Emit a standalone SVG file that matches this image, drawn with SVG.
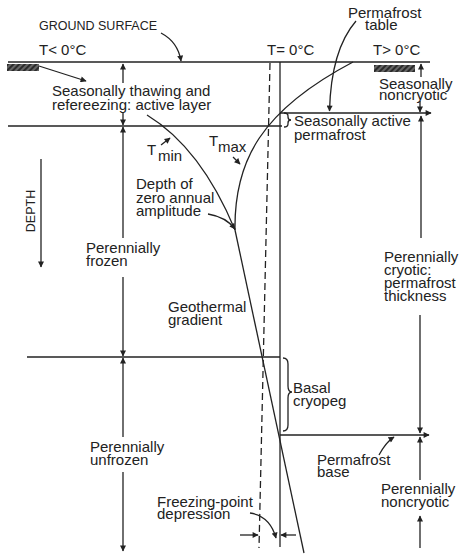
<svg xmlns="http://www.w3.org/2000/svg" width="462" height="556" viewBox="0 0 462 556">
<style>
text{font-family:"Liberation Sans",Arial,sans-serif;font-size:15px;fill:#222}
.sm{font-size:12.5px}
.ln{stroke:#222;stroke-width:1.3;fill:none}
.ar{stroke:#222;stroke-width:1.3;fill:none;marker-end:url(#ah)}
</style>
<defs>
<marker id="ah" viewBox="0 0 10 10" refX="9" refY="5" markerWidth="7" markerHeight="6" markerUnits="userSpaceOnUse" orient="auto"><path d="M0,0 L10,5 L0,10 z" fill="#222"/></marker>
<pattern id="hatch" width="4" height="4" patternUnits="userSpaceOnUse" patternTransform="rotate(45)"><rect width="4" height="4" fill="#2a2a2a"/><line x1="1" y1="0" x2="1" y2="4" stroke="#a0a0a0" stroke-width="1"/></pattern>
</defs>
<rect width="462" height="556" fill="#fff"/>

<g id="surface">
<rect x="7" y="64" width="32" height="7" fill="url(#hatch)"/>
<rect x="374" y="65" width="41" height="7" fill="url(#hatch)"/>
<text class="sm" x="39" y="30">GROUND SURFACE</text>
<text x="39" y="55">T&lt; 0°C</text>
<text x="267" y="55">T= 0°C</text>
<text x="373" y="55">T&gt; 0°C</text>
</g>

<g id="lines">
<line class="ln" x1="8" y1="62" x2="430" y2="62"/>
<line class="ln" x1="8" y1="126" x2="282" y2="126"/>
<line class="ln" x1="27" y1="357" x2="280" y2="357"/>
<line class="ln" x1="280" y1="62" x2="280" y2="547"/>
<line class="ln" x1="270" y1="63" x2="259" y2="548" stroke-dasharray="7,4"/>
</g>

<g id="curves">
<path class="ln" d="M147,115 Q201,148 235,230"/>
<path class="ln" d="M235,230 C234,160 262,110 353,62"/>
<line class="ln" x1="235" y1="230" x2="304" y2="553"/>
</g>

<g id="labels">
<text x="348" y="18">Permafrost</text>
<text x="365" y="30">table</text>
<text x="52" y="96">Seasonally thawing and</text>
<text x="52" y="110">refereezing: active layer</text>
<text x="379" y="89">Seasonally</text>
<text x="379" y="100">noncryotic</text>
<text x="294" y="126">Seasonally active</text>
<text x="294" y="140">permafrost</text>
<text x="147" y="155">T</text><text x="158" y="161">min</text>
<text x="209" y="146">T</text><text x="218" y="152">max</text>
<text x="136" y="189">Depth of</text>
<text x="136" y="203">zero annual</text>
<text x="136" y="216">amplitude</text>
<text class="sm" transform="translate(35,211) rotate(-90)" text-anchor="middle">DEPTH</text>
<text x="86" y="253">Perennially</text>
<text x="86" y="266">frozen</text>
<text x="168" y="312">Geothermal</text>
<text x="168" y="325">gradient</text>
<text x="384" y="262">Perennially</text>
<text x="384" y="275">cryotic:</text>
<text x="384" y="288">permafrost</text>
<text x="384" y="301">thickness</text>
<text x="90" y="452">Perennially</text>
<text x="90" y="465">unfrozen</text>
<text x="293" y="393">Basal</text>
<text x="293" y="406">cryopeg</text>
<text x="317" y="465">Permafrost</text>
<text x="317" y="477">base</text>
<text x="381" y="494">Perennially</text>
<text x="381" y="507">noncryotic</text>
<text x="157" y="507">Freezing-point</text>
<text x="157" y="519">depression</text>
</g>

<g id="braces">
<path class="ln" d="M284,113 q4,0 4,3 v1 q0,3 3,3 q-3,0 -3,3 v1 q0,3 -4,3"/>
<path class="ln" stroke-width="2" d="M283,358 q5,0 5,6 v22 q0,6 4,6 q-4,0 -4,6 v27 q0,6 -5,6"/>
</g>

<g id="connectors">
<line class="ar" x1="39" y1="66" x2="86" y2="81"/>
<path class="ar" d="M161,33 Q178,42 181,61"/>
<path class="ar" d="M356,21 Q331,50 329.5,111"/>
<line class="ar" x1="280" y1="113" x2="431" y2="113"/>
<line class="ar" x1="280" y1="435" x2="429" y2="435"/>
<line class="ar" x1="123" y1="83" x2="123" y2="64"/>
<line class="ar" x1="123" y1="112" x2="123" y2="125"/>
<line class="ar" x1="123" y1="238" x2="123" y2="127"/>
<line class="ar" x1="123" y1="277" x2="123" y2="356"/>
<line class="ar" x1="123" y1="437" x2="123" y2="358"/>
<line class="ar" x1="123" y1="472" x2="123" y2="551"/>
<line class="ar" x1="41" y1="159" x2="41" y2="267"/>
<line class="ar" x1="421" y1="77" x2="421" y2="64"/>
<line class="ar" x1="420" y1="101" x2="420" y2="112"/>
<line class="ar" x1="421" y1="238" x2="421" y2="116"/>
<line class="ar" x1="420" y1="315" x2="420" y2="433"/>
<line class="ar" x1="420" y1="480" x2="420" y2="437"/>
<line class="ar" x1="420" y1="548" x2="420" y2="516"/>
<line class="ar" x1="161" y1="145" x2="170" y2="138"/>
<line class="ar" x1="233" y1="157" x2="240" y2="164"/>
<path class="ar" d="M208,214 Q226,217 235,229"/>
<path class="ar" d="M379,455 Q386,442 394,437"/>
<path class="ar" d="M250,513 Q270,516 276,538"/>
<line class="ar" x1="240" y1="535" x2="258" y2="535"/>
<line class="ar" x1="296" y1="535" x2="281" y2="535"/>
</g>
</svg>
